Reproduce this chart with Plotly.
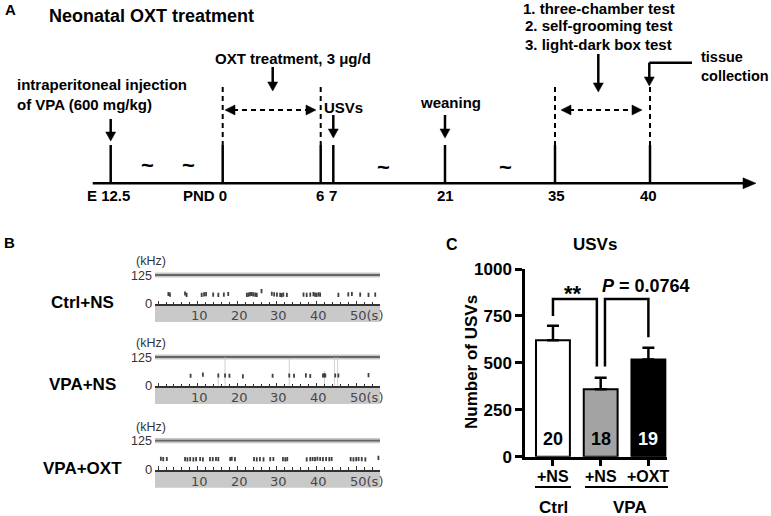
import plotly.graph_objects as go

W, H = 771, 516
FONT = "Liberation Sans, Arial, sans-serif"
SFONT = "DejaVu Sans, sans-serif"


def X(px):
    return px / W


def Y(py):
    return 1 - py / H


# ---------------- Panel C data ----------------
group_labels = ['+NS', '+NS', '+OXT']
group_pos = [0, 1, 2]
usv_mean = [620, 360, 518]
usv_sem = [78, 60, 63]
n_animals = ['20', '18', '19']
bar_colors = ['white', '#a3a3a3', 'black']
n_text_colors = ['black', 'black', 'white']
y_ticks = [0, 250, 500, 750, 1000]
sig_labels = ['**', '<i>P</i> = 0.0764']

# ---------------- Panel B data (call time s, call frequency kHz) ----------------
ctrl_ns_t = [2.6, 3.0, 6.8, 7.2, 11.0, 11.6, 12.1, 13.9, 15.2, 16.6, 17.7,
             22.4, 22.8, 23.2, 23.6, 24.0, 24.5, 24.9, 26.1, 28.7, 29.3, 30.0,
             30.8, 31.2, 31.6, 32.5, 36.7, 37.5, 38.4, 39.2, 39.6, 40.0, 40.5,
             40.9, 45.5, 48.0, 48.9, 51.0, 53.1, 54.8]
ctrl_ns_f = [44, 41, 46, 40, 40, 42, 43, 41, 40, 41, 44,
             40, 41, 43, 44, 42, 41, 40, 56, 45, 42, 41,
             40, 39, 41, 40, 41, 40, 41, 43, 41, 40, 42,
             41, 40, 42, 44, 41, 40, 41]
vpa_ns_t = [8.2, 11.3, 15.2, 16.9, 18.0, 21.4, 28.9, 33.1, 34.3, 37.3, 38.4,
            41.6, 41.9, 42.2, 44.7, 45.5, 53.1]
vpa_ns_f = [45, 50, 46, 46, 45, 42, 45, 46, 45, 47, 44,
            46, 47, 46, 46, 46, 48]
vpa_ns_noise_t = [15.2, 16.9, 33.1, 42.0, 44.5, 45.3]
vpa_ns_noise_top = [55, 125, 118, 65, 125, 125]
vpa_oxt_t = [0.7, 1.3, 2.2, 6.8, 7.4, 8.1, 8.9, 9.6, 10.6, 11.3, 13.1, 13.8,
             14.6, 15.2, 18.2, 18.6, 19.4, 24.2, 24.9, 25.7, 26.6, 28.3, 29.1,
             31.5, 32.1, 32.6, 37.5, 38.4, 39.0, 39.6, 40.2, 40.9, 41.6, 42.4,
             43.2, 43.8, 48.6, 49.3, 50.0, 50.6, 51.4, 52.3, 55.6]
vpa_oxt_f = [48, 46, 47, 46, 45, 46, 45, 46, 47, 45, 46, 46,
             47, 46, 47, 48, 46, 46, 45, 46, 45, 46, 47,
             46, 45, 46, 45, 46, 47, 46, 48, 47, 46, 47,
             46, 47, 46, 45, 46, 47, 46, 45, 52]
spec_groups = ['Ctrl+NS', 'VPA+NS', 'VPA+OXT']
spec_ticks = [10, 20, 30, 40, 50]
spec_tick_text = ['10', '20', '30', '40', '50(s)']
spec_freq_label = ['(kHz)', '125', '0']

# ---------------- Panel A data ----------------
timeline_labels = ['E 12.5', 'PND 0', '6', '7', '21', '35', '40']
event_texts = ['intraperitoneal injection<br>of VPA (600 mg/kg)',
               'OXT treatment, 3 μg/d', 'USVs', 'weaning',
               '1. three-chamber test', '2. self-grooming test',
               '3. light-dark box test', 'tissue<br>collection']

fig = go.Figure()
shapes = []
ann = []


def txt(x, y, s, size=15, xanchor='center', color='black', family=FONT,
        bold=True, xref='paper', yref='paper', angle=0, yanchor='middle', xshift=0):
    if xref == 'paper':
        x = X(x)
    if yref == 'paper':
        y = Y(y)
    ann.append(dict(x=x, y=y, xref=xref, yref=yref, text=(f'<b>{s}</b>' if bold else s),
                    showarrow=False, xanchor=xanchor, yanchor=yanchor, textangle=angle,
                    align=('left' if xanchor == 'left' else 'center'),
                    xshift=xshift, font=dict(family=family, size=size, color=color)))


def line(x0, y0, x1, y1, w=2.5, color='black', dash=None, layer='above'):
    d = dict(type='line', xref='paper', yref='paper', x0=X(x0), y0=Y(y0), x1=X(x1), y1=Y(y1),
             line=dict(color=color, width=w), layer=layer)
    if dash:
        d['line']['dash'] = dash
    shapes.append(d)


def tri(pts, color='black'):
    p = 'M ' + ' L '.join(f'{X(a):.5f},{Y(b):.5f}' for a, b in pts) + ' Z'
    shapes.append(dict(type='path', xref='paper', yref='paper', path=p,
                       fillcolor=color, line=dict(color=color, width=0.5)))


def down_arrow(x, y0, y1):
    line(x, y0, x, y1 - 7)
    tri([(x - 5, y1 - 9), (x + 5, y1 - 9), (x, y1)])


def dbl_arrow(x0, x1, y):
    line(x0 + 8, y, x1 - 8, y, w=2, dash='5px,4px')
    tri([(x0, y), (x0 + 10, y - 5), (x0 + 10, y + 5)])
    tri([(x1, y), (x1 - 10, y - 5), (x1 - 10, y + 5)])


# ================= Panel A =================
txt(10, 9, 'A', size=15)
txt(47, 16, 'Neonatal OXT treatment', size=18, xanchor='left')

tl_y = 183.3
tl_x = [110.7, 222.7, 320.7, 333.3, 445, 555, 650]
line(92.7, tl_y, 745, tl_y)
tri([(756, tl_y), (743, tl_y - 5.5), (743, tl_y + 5.5)])
for xp in tl_x:
    line(xp, 145, xp, tl_y)
for xp in [tl_x[1], tl_x[2], tl_x[5], tl_x[6]]:
    line(xp, 87, xp, 145, w=2, dash='5px,4px')

lab_x = [108, 229, 320, 333, 445.5, 556, 648.5]
lab_anchor = ['center', 'right', 'center', 'center', 'center', 'center', 'center']
for s, xp, a in zip(timeline_labels, lab_x, lab_anchor):
    txt(xp, 195, s, size=15, xanchor=a)

for xp, yp in [(147, 165), (188, 165), (383, 167), (505, 167)]:
    txt(xp, yp, '~', size=22)

txt(15, 94, event_texts[0], size=15, xanchor='left')
down_arrow(tl_x[0], 119, 141)
txt(293, 59, event_texts[1], size=15)
down_arrow(272.7, 67, 91)
dbl_arrow(225, 316, 110)
txt(322, 107, event_texts[2], size=15, xanchor='left')
down_arrow(tl_x[3], 115, 138)
txt(450, 102, event_texts[3], size=15)
down_arrow(tl_x[4], 115, 138)
txt(599, 8, event_texts[4], size=15)
txt(599, 26, event_texts[5], size=15)
txt(598, 44, event_texts[6], size=15)
down_arrow(598.3, 54, 92)
dbl_arrow(561, 642, 110)
txt(699, 66, event_texts[7], size=14.5, xanchor='left')
line(692, 62.7, 649.3, 62.7)
down_arrow(tl_x[6] - 0.7, 62.7, 86)

# ================= Panel B =================
txt(9, 243, 'B', size=15)
spec_zero = [304.3, 386.3, 470.0]
kpx = 29.3 / 125.0
spec_top_khz = 137.8
spec_t = [ctrl_ns_t, vpa_ns_t, vpa_oxt_t]
spec_f = [ctrl_ns_f, vpa_ns_f, vpa_oxt_f]
for i, z0 in enumerate(spec_zero):
    xa = f'x{i + 2}'
    ya = f'y{i + 2}'
    shapes.append(dict(type='rect', xref='paper', yref='paper', x0=X(155), x1=X(380),
                       y0=Y(z0 + 0.8), y1=Y(z0 + 17.8), fillcolor='#c9c9c9',
                       line=dict(width=0), layer='below'))
    y125 = z0 - 125 * kpx
    shapes.append(dict(type='rect', xref='paper', yref='paper', x0=X(155), x1=X(380),
                       y0=Y(y125 + 2.6), y1=Y(y125 - 2.6), fillcolor='#c8c8c8',
                       line=dict(width=0), layer='below'))
    line(155, y125, 380, y125, w=1.8, color='#666666', layer='below')
    txt(82, z0 - 2, spec_groups[i], size=17)
    txt(134, z0 - 43, spec_freq_label[0], size=12.5, xanchor='left', bold=False,
        color='#333333')
    txt(154, y125 + 0.5, spec_freq_label[1], size=12.5, xanchor='right', bold=False,
        color='#333333')
    txt(148, z0 - 1, spec_freq_label[2], size=13, bold=False, color='#333333')
    for tv, tt in zip(spec_ticks, spec_tick_text):
        ann.append(dict(x=tv, y=Y(z0 + 11), xref=xa, yref='paper', text=tt,
                        showarrow=False, xanchor='left', yanchor='middle', xshift=-8.5,
                        font=dict(family=SFONT, size=13, color='#474747')))
    if i == 1:
        for nt, top in zip(vpa_ns_noise_t, vpa_ns_noise_top):
            fig.add_trace(go.Scatter(x=[nt, nt], y=[0, top], mode='lines',
                                     line=dict(color='#c4c4c4', width=0.8),
                                     xaxis=xa, yaxis=ya, hoverinfo='skip'))
    fig.add_trace(go.Scatter(x=spec_t[i], y=spec_f[i], mode='markers',
                             marker=dict(symbol='line-ns', size=3,
                                         line=dict(color='#404040', width=1.8)),
                             xaxis=xa, yaxis=ya))
    fig.layout[f'xaxis{i + 2}'] = dict(
        domain=[X(155), X(380)], range=[-0.78, 56.0], anchor=ya,
        showline=True, linecolor='#333333', linewidth=1.5,
        ticks='inside', ticklen=4, tickwidth=1, tickcolor='#333333',
        tickmode='linear', tick0=0, dtick=10, showticklabels=False,
        minor=dict(ticks='inside', dtick=2, ticklen=3, tickwidth=1, tickcolor='#333333'),
        showgrid=False, zeroline=False, fixedrange=True, automargin=False)
    fig.layout[f'yaxis{i + 2}'] = dict(
        domain=[Y(z0), Y(z0 - spec_top_khz * kpx)], range=[0, spec_top_khz],
        anchor=xa, visible=False, fixedrange=True, automargin=False)

# ================= Panel C =================
fig.add_trace(go.Bar(
    x=group_pos, y=usv_mean, width=0.71,
    marker=dict(color=bar_colors, line=dict(color='black', width=2)),
    error_y=dict(type='data', array=usv_sem, arrayminus=[0, 0, 0], symmetric=False,
                 color='black', thickness=2.5, width=6),
    xaxis='x', yaxis='y'))
for gx, nt, c in zip(group_pos, n_animals, n_text_colors):
    ann.append(dict(x=gx, y=96, xref='x', yref='y', text=f'<b>{nt}</b>', showarrow=False,
                    font=dict(family=FONT, size=18, color=c)))
for gx, gl in zip(group_pos, group_labels):
    ann.append(dict(x=gx, y=Y(476), xref='x', yref='paper', text=f'<b>{gl}</b>',
                    showarrow=False, yanchor='middle',
                    font=dict(family=FONT, size=16, color='black')))

shapes.append(dict(type='path', xref='x', yref='y',
                   path='M 0,750 L 0,840 L 0.92,840 L 0.92,481',
                   line=dict(color='black', width=2.5)))
shapes.append(dict(type='path', xref='x', yref='y',
                   path='M 1.09,481 L 1.09,840 L 2,840 L 2,636',
                   line=dict(color='black', width=2.5)))
ann.append(dict(x=0.42, y=872, xref='x', yref='y', text=f'<b>{sig_labels[0]}</b>',
                showarrow=False, font=dict(family=FONT, size=22, color='black')))
ann.append(dict(x=1.96, y=846, xref='x', yref='y', text=f'<b>{sig_labels[1]}</b>',
                showarrow=False, yanchor='bottom',
                font=dict(family=FONT, size=18, color='black')))

txt(452, 245, 'C', size=16)
txt(595, 245, 'USVs', size=17)
txt(471, 362, 'Number of USVs', size=17, angle=-90)
line(535, 487, 571, 487, w=2)
line(585, 487, 668, 487, w=2)
txt(553, 507, 'Ctrl', size=17)
txt(630, 507, 'VPA', size=17)

fig.update_layout(
    template='none',
    xaxis=dict(domain=[X(525), X(667)], range=[-0.586, 2.39], anchor='y',
               tickmode='array', tickvals=group_pos, showticklabels=False,
               showline=True, linecolor='black', linewidth=2.5,
               ticks='outside', ticklen=7, tickwidth=2.5, tickcolor='black',
               showgrid=False, zeroline=False, fixedrange=True, automargin=False),
    yaxis=dict(domain=[Y(456.7), Y(269)], range=[0, 1000], anchor='x',
               tickmode='array', tickvals=y_ticks,
               showline=True, linecolor='black', linewidth=2.5,
               ticks='outside', ticklen=7, tickwidth=2.5, tickcolor='black',
               tickfont=dict(family=FONT, size=17, color='black', weight='bold'),
               showgrid=False, zeroline=False, fixedrange=True, automargin=False),
    width=W, height=H, margin=dict(l=0, r=0, t=0, b=0, pad=0), autosize=False,
    paper_bgcolor='white', plot_bgcolor='rgba(0,0,0,0)',
    showlegend=False, shapes=shapes, annotations=ann,
)

fig.write_html("out.html", config={'displayModeBar': False},
               post_script="document.body.style.margin='0';document.body.style.padding='0';")
